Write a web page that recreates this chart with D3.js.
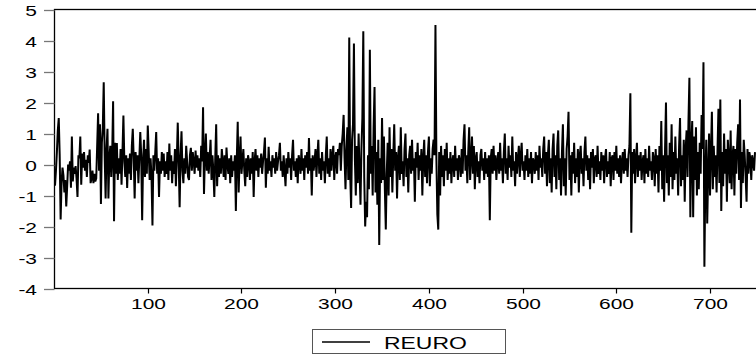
<!DOCTYPE html>
<html>
<head>
<meta charset="utf-8">
<script src="https://cdn.jsdelivr.net/npm/d3@7"></script>
<style>
  html, body { margin: 0; padding: 0; background: #fff; }
  svg { display: block; }
  text { font-family: "Liberation Sans", Arial, sans-serif; fill: #000; }
</style>
</head>
<body>
<svg id="chart" width="756" height="359"></svg>
<script>
// REURO series, observations 1..748
const reuro = [
  -0.68,-0.2,0.4,1.1,1.5,0.3,-1.77,-0.6,-0.1,-0.35,
  -0.9,-0.5,-1.35,-0.7,0.0,-0.2,0.1,-0.75,0.9,-0.55,
  -0.1,-0.3,-0.05,-0.45,-1.05,0.3,0.2,0.9,-0.65,0.35,
  -0.1,0.4,-0.2,0.15,-0.4,0.3,0.05,0.48,-0.6,-0.45,
  -0.2,-0.6,-0.3,-0.55,-0.45,0.6,1.65,-0.2,1.3,-1.27,
  0.7,1.2,2.65,0.3,-1.1,0.5,1.15,-1.1,0.2,0.6,
  -0.4,0.3,2.04,-1.83,0.7,-0.3,0.69,-0.5,0.2,-0.3,
  0.5,-0.65,0.4,1.58,0.1,-0.4,0.3,-0.76,0.2,-0.3,
  0.35,-0.5,0.6,1.15,0.2,-1.1,0.4,-0.2,0.3,-0.6,
  0.2,1.05,0.3,-1.8,0.1,0.8,-0.4,0.5,-0.3,1.26,
  0.4,-0.5,0.2,-0.4,-1.97,0.3,-0.2,0.4,1.05,-0.3,
  0.2,-1.05,0.1,-0.3,0.4,-0.2,0.35,-0.4,0.1,-0.3,
  0.4,-0.5,0.68,-0.2,0.3,-0.6,0.1,-0.3,0.5,-0.7,
  0.2,1.35,0.1,-1.38,0.3,1.07,-0.2,-0.6,0.2,-0.3,
  0.6,0.1,-0.4,-0.5,0.3,0.54,-0.2,0.4,0.1,-0.3,
  0.45,-0.1,0.3,-0.2,0.2,-0.4,0.6,0.1,1.85,-0.95,
  0.3,1.0,-0.2,0.4,-0.3,0.2,0.8,-0.5,0.3,-0.2,
  -1.05,0.2,1.3,-0.7,0.3,-0.4,0.2,-0.3,0.5,0.1,
  -0.4,0.3,-0.5,0.55,0.0,-0.3,0.2,-0.6,0.3,-0.4,
  0.1,-0.2,0.3,-1.5,0.2,1.38,-0.9,0.2,0.9,-0.3,
  0.1,0.5,-0.2,-0.7,0.2,-0.4,0.3,0.1,-0.5,0.2,
  -0.3,0.4,-1.05,0.1,0.5,-0.2,0.3,-0.4,0.2,-0.1,
  0.35,-0.3,0.1,0.4,0.87,-0.75,0.2,-0.3,0.57,-0.2,
  0.1,-0.4,0.3,-0.1,0.2,-0.3,0.4,-0.2,0.1,0.3,
  0.7,-0.2,0.1,-0.4,0.3,-0.2,-0.7,0.2,-0.3,0.4,
  -0.1,0.2,-0.5,0.3,0.8,-0.2,0.1,-0.4,0.2,-0.6,
  0.3,0.1,-0.3,0.5,-0.2,0.2,-0.5,0.3,-0.1,0.4,
  -0.3,0.85,-0.2,0.2,-1.0,0.3,-0.2,0.1,0.5,-0.4,
  0.3,0.8,-0.3,0.2,-0.5,0.4,-0.2,0.1,-0.6,0.3,
  0.9,-0.3,0.2,-0.4,0.5,-0.2,0.3,0.6,-0.5,0.2,
  0.4,-0.3,0.5,0.3,0.7,-0.2,0.6,1.0,1.6,0.2,
  -0.8,0.5,1.2,-0.5,4.1,-0.3,-1.4,0.8,1.3,3.9,
  0.2,-1.0,0.6,-0.6,1.0,-0.2,-1.3,0.5,1.5,4.3,
  -0.4,-2.0,-1.2,-1.7,0.3,-0.8,3.7,-0.3,0.6,-1.0,
  1.2,2.5,-0.9,0.4,-1.3,0.8,-2.6,0.2,-0.6,1.5,
  -0.5,0.9,-0.8,-2.1,-0.3,0.7,-1.0,1.2,-0.4,0.5,
  -0.9,0.3,1.3,-0.2,0.4,-1.1,0.2,0.6,-0.5,1.2,
  -0.3,0.1,-0.7,0.5,1.0,-0.4,0.2,-0.9,0.3,0.6,
  -0.3,0.8,-0.2,0.2,-1.2,0.4,-0.1,0.7,-0.5,0.3,
  -0.2,0.5,-1.0,0.2,0.8,-0.4,0.3,-0.6,0.4,0.9,
  -0.7,0.2,-0.3,0.5,0.8,0.3,4.5,0.2,-1.6,-2.1,
  0.4,-1.0,0.6,-0.4,0.3,-0.7,0.5,-0.2,0.7,-0.5,
  0.2,-0.3,0.4,-0.6,0.1,0.3,-0.4,0.6,-0.2,0.2,
  -0.5,0.3,0.1,-0.4,0.5,-0.3,0.8,1.3,-0.2,0.3,
  -0.6,0.4,1.2,-0.5,0.2,0.9,-0.3,0.6,-0.8,0.2,
  0.4,-0.4,0.1,-0.6,0.3,0.5,-0.2,0.2,-0.5,0.4,
  -0.3,0.2,-0.4,0.3,-1.8,0.2,0.5,-0.3,0.6,-0.2,
  0.3,-0.5,0.1,0.4,-0.3,0.7,-0.2,0.2,-0.6,0.4,
  1.0,-0.3,0.2,-0.5,0.6,-0.1,0.3,-0.4,0.9,-0.2,
  0.1,-0.7,0.4,-0.3,0.2,0.6,-0.4,0.3,0.7,-0.2,
  0.1,-0.5,0.3,-0.2,0.5,-0.4,0.2,-0.3,0.4,-0.6,
  0.2,0.1,-0.3,0.4,-0.2,0.3,-0.5,0.6,-0.1,0.2,
  -0.4,0.5,0.9,-0.3,0.4,-0.7,0.3,0.8,-0.6,0.2,
  -0.9,0.5,1.0,-0.4,0.3,-0.8,0.6,1.1,-0.5,0.2,
  -1.0,0.4,1.3,-0.7,0.2,-1.0,0.5,0.9,1.7,-0.5,
  0.3,-1.0,0.4,-0.3,0.7,-0.6,0.2,-0.4,0.5,-0.9,
  0.3,0.6,-0.3,0.2,-0.7,0.4,0.9,-0.2,0.3,-0.5,
  0.2,-0.8,0.4,-0.1,0.5,-0.6,0.2,0.3,-0.4,0.6,
  -0.3,0.1,-0.5,0.4,-0.2,0.3,-0.6,0.2,0.5,-0.4,
  0.1,-0.3,0.4,-0.7,0.2,0.3,-0.5,0.4,-0.2,0.6,
  -0.3,0.2,-0.4,0.3,-0.6,0.1,0.4,-0.3,0.5,-0.2,
  0.2,-0.4,0.3,0.6,2.3,-2.2,0.4,-0.3,0.5,-0.6,
  0.2,0.7,-0.4,0.3,-0.2,0.4,-0.5,0.1,0.3,-0.6,
  0.5,-0.3,0.2,-0.4,0.6,-0.2,0.1,-0.5,0.4,0.2,
  -0.7,0.5,-0.3,0.3,-0.9,0.6,-0.2,1.4,-0.8,0.3,
  -1.2,0.5,2.0,-0.6,0.3,-1.0,0.7,-0.4,1.3,-0.8,
  0.4,-0.5,0.9,-0.3,0.2,-1.0,0.6,1.5,-0.7,0.3,
  -0.5,0.8,-1.2,0.5,1.1,-0.4,1.4,2.8,-1.7,0.6,
  1.4,-1.7,0.9,-0.5,1.2,-1.0,0.4,-0.8,0.7,-0.3,
  1.6,0.5,3.3,-3.3,-0.5,0.8,-1.9,-0.3,1.0,-1.0,
  0.4,1.7,-0.8,0.6,-0.4,0.3,-0.9,0.5,1.8,-0.6,
  2.1,-1.5,0.4,-0.7,1.0,-0.3,0.5,-1.2,0.8,0.2,
  -0.6,1.1,-0.8,0.3,0.6,-1.0,0.5,-0.3,0.7,1.3,
  -0.5,2.1,-1.4,0.4,-0.6,0.8,0.3,-0.4,-1.2,0.5,
  -0.3,0.4,0.2,-0.5,0.3,0.1,-0.2,0.4
];
const xTicks = [100, 200, 300, 400, 500, 600, 700];
const yTicks = [-4, -3, -2, -1, 0, 1, 2, 3, 4, 5];
const seriesName = "REURO";

const svg = d3.select("#chart");
const plot = { left: 54.5, right: 757, top: 9.5, bottom: 288.5 };
const stretch = 1.35; // glyphs are drawn horizontally widened

const x = d3.scaleLinear().domain([1, reuro.length]).range([55, 755]);
const y = d3.scaleLinear().domain([-4, 5]).range([plot.bottom, plot.top]);

// frame
svg.append("rect")
  .attr("x", plot.left).attr("y", plot.top)
  .attr("width", plot.right - plot.left).attr("height", plot.bottom - plot.top)
  .attr("fill", "none").attr("stroke", "#000").attr("stroke-width", 1.3);

// y axis: ticks outside the frame
const yAxis = svg.append("g");
yTicks.forEach(t => {
  const yy = Math.round(y(t)) + 0.5;
  yAxis.append("line")
    .attr("x1", 44).attr("x2", plot.left).attr("y1", yy).attr("y2", yy)
    .attr("stroke", "#777").attr("stroke-width", 1.3);
  yAxis.append("text")
    .attr("transform", `translate(37,${yy + 5.5}) scale(${stretch},1)`)
    .attr("text-anchor", "end").attr("font-size", 15.5)
    .text(d3.format("d")(t).replace("−", "-"));
});

// x axis: ticks below the frame
const xAxis = svg.append("g");
xTicks.forEach(t => {
  const xx = Math.round(x(t)) + 0.5;
  xAxis.append("line")
    .attr("x1", xx).attr("x2", xx).attr("y1", plot.bottom).attr("y2", plot.bottom + 5)
    .attr("stroke", "#000").attr("stroke-width", 1.2);
  xAxis.append("text")
    .attr("transform", `translate(${xx},${plot.bottom + 20}) scale(${stretch},1)`)
    .attr("text-anchor", "middle").attr("font-size", 15.5)
    .text(t);
});

// series line
const line = d3.line()
  .x((d, i) => x(i + 1))
  .y(d => y(d));
svg.append("path")
  .datum(reuro)
  .attr("d", line)
  .attr("fill", "none")
  .attr("stroke", "#000")
  .attr("stroke-width", 2)
  .attr("stroke-linejoin", "miter")
  .attr("stroke-miterlimit", 2);

// legend
const lg = svg.append("g");
lg.append("rect")
  .attr("x", 312.5).attr("y", 329.5).attr("width", 193).attr("height", 24)
  .attr("fill", "#fff").attr("stroke", "#555").attr("stroke-width", 1);
lg.append("line")
  .attr("x1", 322).attr("x2", 370).attr("y1", 342).attr("y2", 342)
  .attr("stroke", "#000").attr("stroke-width", 1.3);
lg.append("text")
  .attr("transform", `translate(384,349) scale(${stretch},1)`)
  .attr("font-size", 17)
  .text(seriesName);
</script>
</body>
</html>
